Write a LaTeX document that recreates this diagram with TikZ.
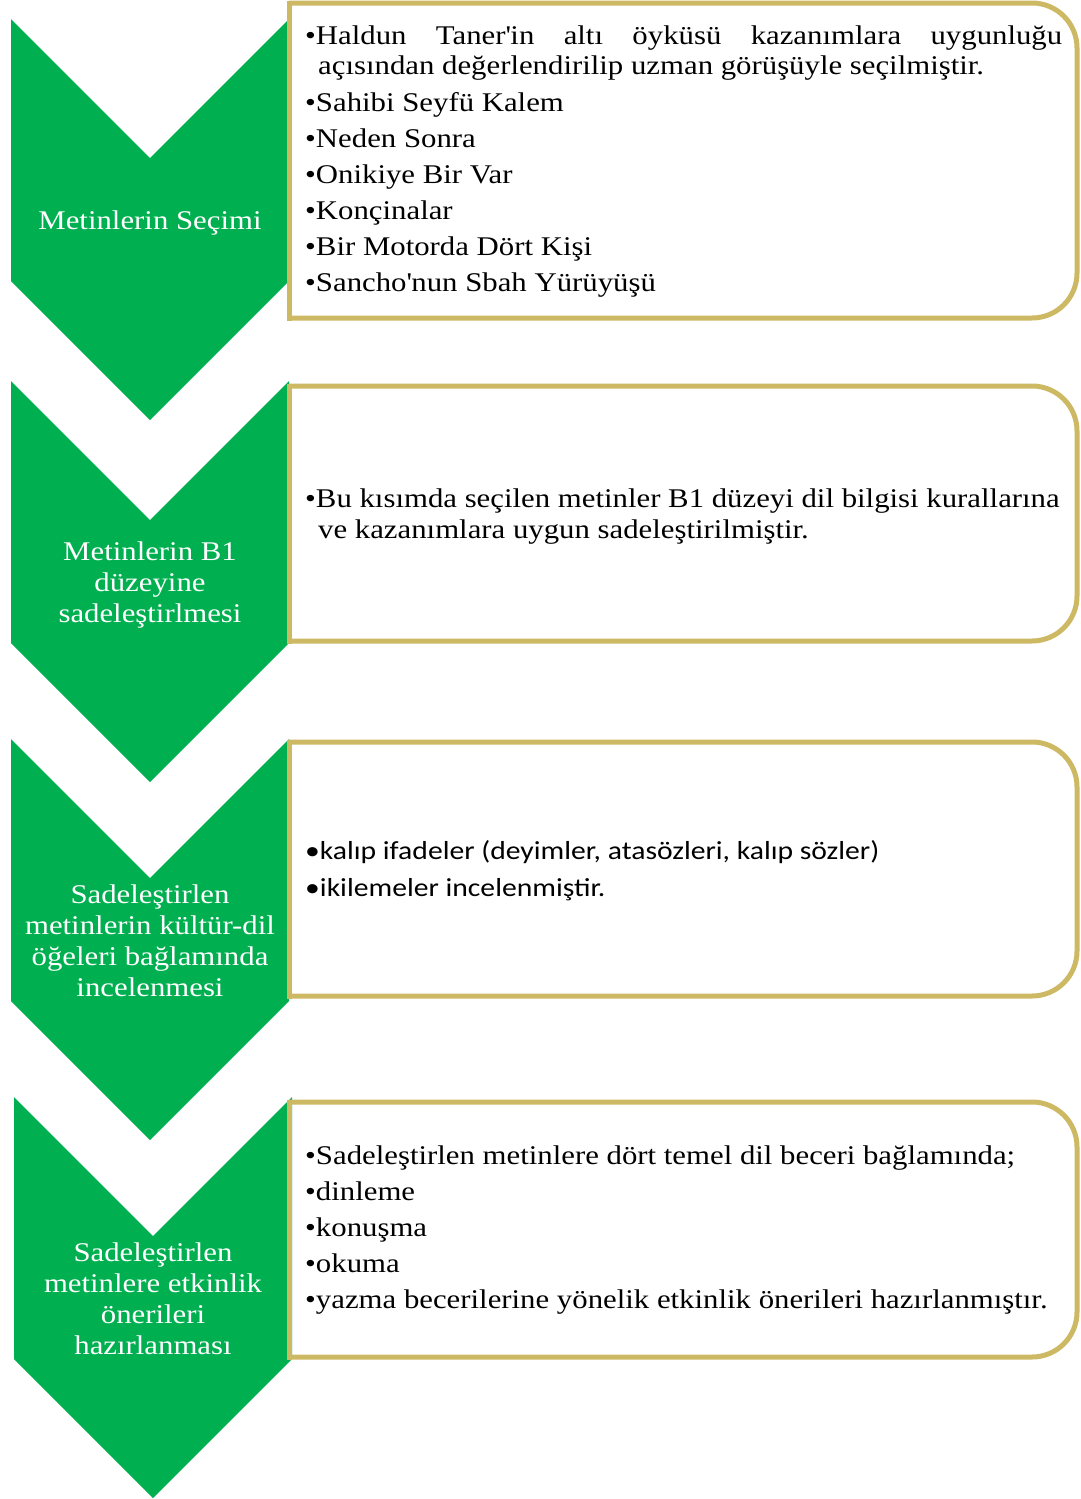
\documentclass[tikz,border=0pt]{standalone}
\usepackage{fontspec}
\setmainfont{Liberation Serif}[FakeStretch=1.14]
\newfontfamily\calibrifont{Carlito}[FakeStretch=1.14]
\definecolor{chevgreen}{RGB}{0,176,80}
\definecolor{boxgold}{RGB}{205,185,100}
\tikzset{
  infobox/.style={draw=boxgold, line width=5pt, rounded corners=45pt},
  boxside/.style={draw=boxgold, line width=5pt, line cap=rect},
  steplabel/.style={text=white, align=center, inner sep=0pt, font=\fontsize{27}{31}\selectfont},
  itemtext/.style={anchor=base west, align=left, inner sep=0pt, font=\fontsize{27}{36}\selectfont},
}
\begin{document}
\begin{tikzpicture}[x=1pt, y=-1pt]
    \useasboundingbox (0,0) rectangle (1081,1499);

    % Draw green chevrons
    \foreach \t/\l in {19/11, 381/11, 739/11, 1097/14} {
        \fill[chevgreen] (\l,\t) -- (\l+139,\t+139) -- (\l+278,\t) -- (\l+278,\t+262)
            -- (\l+139,\t+401) -- (\l,\t+262) -- cycle;
    }

    % Draw boxes, rounded on the right only
    \foreach \t/\b in {3/318, 386/641, 742/996, 1102/1357} {
        \draw[infobox] (289,\t) -- (1077,\t) -- (1077,\b) -- (289,\b);
        \draw[boxside] (289,\t) -- (289,\b);
    }

    % Step labels
    \node[steplabel] (secim) at (150,223) {Metinlerin Seçimi};
    \node[steplabel] (sadelestirme) at (150,585) {Metinlerin B1\\düzeyine\\sadeleştirlmesi};
    \node[steplabel] (inceleme) at (150,941) {Sadeleştirlen\\metinlerin kültür-dil\\öğeleri bağlamında\\incelenmesi};
    \node[steplabel] (etkinlik) at (153,1299) {Sadeleştirlen\\metinlere etkinlik\\önerileri\\hazırlanması};

    % Box texts (anchored at the last baseline)
    \node[itemtext] (oykuler) at (305,291) {\makebox[757pt][s]{\textbullet Haldun Taner\textquotesingle in altı öyküsü kazanımlara uygunluğu}\\[-6pt]
        \hspace*{13pt}açısından değerlendirilip uzman görüşüyle seçilmiştir.\\[1pt]
        \textbullet Sahibi Seyfü Kalem\\
        \textbullet Neden Sonra\\
        \textbullet Onikiye Bir Var\\
        \textbullet Konçinalar\\
        \textbullet Bir Motorda Dört Kişi\\
        \textbullet Sancho\textquotesingle nun Sbah Yürüyüşü};
    \node[itemtext] (kurallar) at (305,538) {\textbullet Bu kısımda seçilen metinler B1 düzeyi dil bilgisi kurallarına\\[-5pt]
        \hspace*{13pt}ve kazanımlara uygun sadeleştirilmiştir.};
    \node[itemtext, font=\calibrifont\fontsize{26}{37}\selectfont] (kalip) at (305,896) {\textbullet kalıp ifadeler (deyimler, atasözleri, kalıp sözler)\\
        \textbullet ikilemeler incelenmiştir.};
    \node[itemtext] (beceriler) at (305,1308) {\textbullet Sadeleştirlen metinlere dört temel dil beceri bağlamında;\\
        \textbullet dinleme\\
        \textbullet konuşma\\
        \textbullet okuma\\
        \textbullet yazma becerilerine yönelik etkinlik önerileri hazırlanmıştır.};
\end{tikzpicture}
\end{document}
